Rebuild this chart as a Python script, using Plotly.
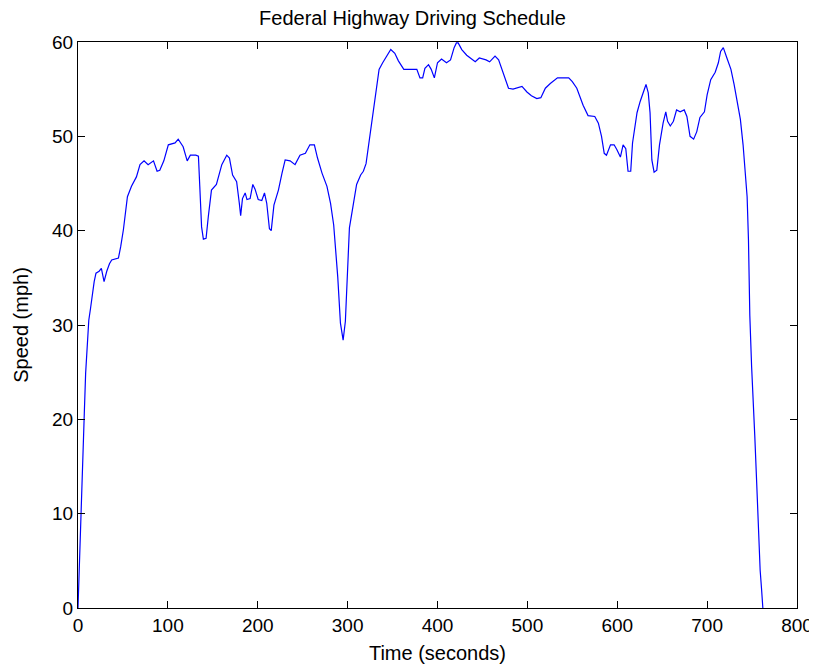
import plotly.graph_objects as go

# Federal Highway Driving Schedule
time_s = [
    0, 1, 3, 5, 7, 8.5, 10.5, 12, 14, 16, 18, 20, 23.5, 26, 29, 32, 35, 37.5, 45, 47.5,
    50.5, 55, 59.5, 65, 69, 73.5, 78, 84, 88, 91, 95.5, 100.5, 108, 111.5, 117, 121.5, 125, 131, 134, 135.5,
    137.5, 139.5, 142.5, 145, 148.5, 154, 160, 165.5, 168.5, 172, 176.5, 179.5, 181, 183, 186, 188, 191.5, 194.5, 197, 200.5,
    204.5, 207.5, 210, 213, 215, 218, 223, 227, 230.5, 236, 241.5, 247, 253, 258, 263, 266.5, 271.5, 277, 281, 284.5,
    286.5, 289, 292, 295, 297.5, 299.5, 302, 306, 310, 314.5, 317.5, 320.5, 324, 328, 331.5, 335, 339, 343.5, 348, 352.5,
    356.5, 362.5, 377, 380.5, 383.5, 386, 390, 393, 396.5, 400, 404.5, 410, 414.5, 418.5, 421, 423, 427, 432.5, 442, 446.5,
    454, 458, 464, 468, 471.5, 475.5, 479, 484, 488.5, 494, 499.5, 504.5, 510.5, 515, 520, 525.5, 533.5, 546, 550, 555,
    558.5, 562, 567.5, 575, 579, 582.5, 585.5, 588, 592.5, 596.5, 599.5, 603.5, 606.5, 609.5, 612, 615, 617, 622, 625.5, 629,
    632, 634.5, 636.5, 638.5, 641, 644, 647, 651, 654, 656, 659, 662.5, 666, 670, 674.5, 677.5, 681, 685, 688.5, 692,
    697, 700, 704, 709, 712.5, 715, 718, 722, 726.5, 730, 733, 737, 740, 742.5, 744.5, 746, 747.5, 749.5, 751.5, 753,
    755, 757, 759, 760.5, 762,
]
speed_mph = [
    0, 3.3, 9.7, 15.7, 20.6, 24.9, 28.4, 30.5, 31.8, 33.4, 34.6, 35.5, 35.7, 36.0, 34.6, 35.7, 36.5, 36.9, 37.1, 38.3,
    40.1, 43.6, 44.7, 45.7, 47.0, 47.4, 47.0, 47.4, 46.3, 46.4, 47.4, 49.1, 49.3, 49.7, 48.9, 47.4, 48.0, 48.0, 47.9, 44.7,
    40.4, 39.1, 39.2, 41.5, 44.3, 44.9, 47.0, 48.0, 47.7, 45.9, 45.2, 42.9, 41.6, 43.4, 44.0, 43.3, 43.4, 44.9, 44.4, 43.3,
    43.2, 44.0, 42.9, 40.2, 40.0, 42.7, 44.3, 46.1, 47.5, 47.4, 47.0, 48.0, 48.2, 49.1, 49.1, 47.7, 46.1, 44.7, 42.9, 40.6,
    38.4, 35.1, 30.2, 28.4, 30.4, 34.4, 40.3, 42.6, 44.9, 45.9, 46.3, 47.1, 49.6, 52.1, 54.6, 57.1, 57.8, 58.5, 59.2, 58.8,
    58.0, 57.1, 57.1, 56.2, 56.2, 57.2, 57.6, 57.1, 56.2, 57.8, 58.2, 57.8, 58.1, 59.4, 59.9, 59.9, 59.2, 58.6, 57.9, 58.3,
    58.1, 57.9, 58.5, 58.1, 57.1, 56.0, 55.1, 55.0, 55.1, 55.3, 54.7, 54.3, 54.0, 54.1, 55.1, 55.6, 56.2, 56.2, 55.8, 55.1,
    54.2, 53.3, 52.2, 52.1, 51.4, 50.0, 48.2, 48.0, 49.1, 49.1, 48.6, 47.8, 49.1, 48.7, 46.3, 46.3, 49.3, 52.5, 53.7, 54.8,
    55.5, 54.6, 52.5, 47.5, 46.2, 46.4, 49.1, 51.4, 52.6, 51.6, 51.1, 51.6, 52.8, 52.6, 52.8, 52.1, 50.0, 49.7, 50.5, 52.0,
    52.6, 54.4, 56.0, 56.8, 57.8, 59.0, 59.4, 58.3, 57.1, 55.5, 53.9, 51.8, 49.1, 46.5, 43.6, 39.0, 31.0, 25.6, 20.4, 18.3,
    13.6, 8.2, 4.0, 2.1, 0,
]

x_ticks = [0, 100, 200, 300, 400, 500, 600, 700, 800]
y_ticks = [0, 10, 20, 30, 40, 50, 60]

FONT = "Liberation Sans, Arial, sans-serif"

fig = go.Figure()
fig.add_trace(go.Scatter(
    x=time_s, y=speed_mph, mode="lines",
    line=dict(color="#0000FF", width=1.2),
    hoverinfo="x+y", showlegend=False,
))

axis_common = dict(
    showgrid=False, zeroline=False, showline=True, linecolor="#000000", linewidth=1,
    mirror="ticks", ticks="inside", ticklen=7, tickwidth=1, tickcolor="#000000",
    tickfont=dict(family=FONT, size=19, color="#000000"), automargin=False,
)

W, H = 809, 661  # page body adds an 8px offset inside the 817x669 window

fig.update_layout(
    template="none",
    width=W, height=H,
    margin=dict(l=70, r=20, t=34, b=61),
    paper_bgcolor="white", plot_bgcolor="white",
    title=dict(text="Federal Highway Driving Schedule", x=0.5, xanchor="center",
               y=1.0, yref="container", yanchor="top", pad=dict(t=3),
               font=dict(family=FONT, size=20, color="#000000")),
    xaxis=dict(range=[0, 800], tickvals=x_ticks, ticktext=[str(v) for v in x_ticks],
               title=dict(text="Time (seconds)", font=dict(family=FONT, size=20, color="#000000"), standoff=11),
               **axis_common),
    yaxis=dict(range=[0, 60], tickvals=y_ticks, ticktext=[str(v) for v in y_ticks],
               title=dict(text="Speed (mph)", font=dict(family=FONT, size=20, color="#000000"), standoff=18),
               **axis_common),
)

fig.write_html("out.html")
